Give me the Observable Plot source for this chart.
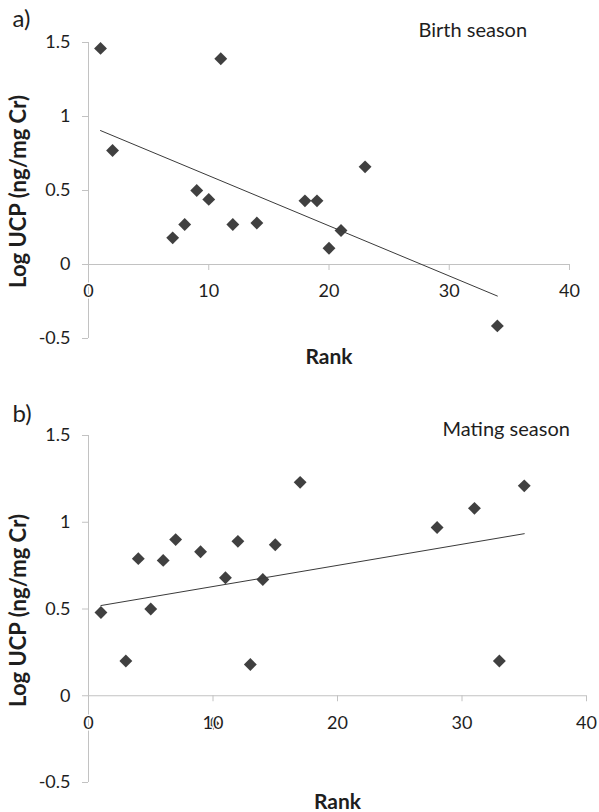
<!DOCTYPE html>
<html>
<head>
<meta charset="utf-8">
<script src="https://cdn.jsdelivr.net/npm/d3@7"></script>
<script src="https://cdn.jsdelivr.net/npm/@observablehq/plot@0.6"></script>
<style>
  html, body { margin: 0; padding: 0; background: #fff; }
  #chart { width: 599px; }
  #chart svg { display: block; }
</style>
</head>
<body>
<div id="chart"></div>
<script>
// ---- Data ----
const rankA = [1, 2, 7, 8, 9, 10, 11, 12, 14, 18, 19, 20, 21, 23, 34];
const ucpA  = [1.46, 0.77, 0.18, 0.27, 0.50, 0.44, 1.39, 0.27, 0.28, 0.43, 0.43, 0.11, 0.23, 0.66, -0.415];
const trendRankA = [1, 34];
const trendUcpA  = [0.905, -0.213];

const rankB = [1, 3, 4, 5, 6, 7, 9, 10, 11, 12, 13, 14, 15, 17, 28, 31, 33, 35];
const ucpB  = [0.48, 0.20, 0.79, 0.50, 0.78, 0.90, 0.83, -0.16, 0.68, 0.89, 0.18, 0.67, 0.87, 1.23, 0.97, 1.08, 0.20, 1.21];
const trendRankB = [1, 35];
const trendUcpB  = [0.52, 0.934];

const xTicks = [0, 10, 20, 30, 40];
const yTicks = [-0.5, 0, 0.5, 1, 1.5];
const yTickLabels = ["-0.5", "0", "0.5", "1", "1.5"];

const panelLetters = ["a)", "b)"];
const seasonLabels = ["Birth season", "Mating season"];
const yTitle = "Log UCP (ng/mg Cr)";
const xTitle = "Rank";

// ---- Styles ----
const AXIS = "#c2c2c2";
const INK = "#1e1e1e";
const MARK = "#404040";
const FONT = "Lato, 'Open Sans', sans-serif";

function panel(o) {
  const pts = o.rank.map((r, i) => ({rank: r, ucp: o.ucp[i]}));
  const trend = o.trendX.map((r, i) => ({rank: r, ucp: o.trendY[i]}));
  return Plot.plot({
    width: 599,
    height: o.height,
    marginLeft: 88,
    marginRight: o.marginRight,
    marginTop: o.marginTop,
    marginBottom: o.marginBottom,
    x: {domain: [0, 40], axis: null},
    y: {domain: [-0.5, 1.5], axis: null},
    style: {fontFamily: FONT, background: "#fff", color: INK, overflow: "visible"},
    marks: [
      // vertical axis line and ticks
      Plot.ruleX([0], {y1: -0.5, y2: 1.5, stroke: AXIS, strokeWidth: 1}),
      Plot.ruleY(yTicks, {y: d => d, x1: 0, x2: 0, insetLeft: -6, stroke: AXIS, strokeWidth: 1}),
      // horizontal axis line at y = 0 and ticks
      Plot.ruleY([0], {x1: 0, x2: 40, stroke: AXIS, strokeWidth: 1}),
      Plot.ruleX(xTicks, {x: d => d, y1: 0, y2: 0, insetBottom: -6, stroke: AXIS, strokeWidth: 1}),
      // data
      Plot.dot(pts, {x: "rank", y: "ucp", symbol: "diamond2", r: 5.8, fill: MARK, stroke: "none"}),
      Plot.line(trend, {x: "rank", y: "ucp", stroke: "#3a3a3a", strokeWidth: 1}),
      // tick labels
      Plot.text(yTicks, {x: 0, y: d => d, text: (d, i) => yTickLabels[i], dx: -18, textAnchor: "end", lineAnchor: "middle", fontSize: 18, fill: INK}),
      Plot.text(xTicks, {x: d => d, y: 0, dy: 27, text: d => String(d), textAnchor: "middle", lineAnchor: "middle", fontSize: 18, fill: INK,
        stroke: "white", strokeWidth: 3, paintOrder: "stroke"}),
      // panel letter and season label
      Plot.text([o.letter], {text: d => d, frameAnchor: "top-left", dx: o.letterDx, dy: o.letterDy, textAnchor: "start", lineAnchor: "middle", fontSize: 24, fill: INK}),
      Plot.text([o.season], {text: d => d, frameAnchor: "top-left", dx: o.seasonDx, dy: o.seasonDy, textAnchor: "start", lineAnchor: "middle", fontSize: 20, fill: INK}),
      // axis titles
      Plot.text([yTitle], {text: d => d, frameAnchor: "left", dx: -70, dy: o.yTitleDy, rotate: -90, textAnchor: "middle", lineAnchor: "middle", fontWeight: "bold", fontSize: 22, fill: INK}),
      Plot.text([xTitle], {text: d => d, frameAnchor: "bottom", dy: o.xTitleDy, textAnchor: "middle", lineAnchor: "middle", fontWeight: "bold", fontSize: 21, fill: INK})
    ]
  });
}

const chart = document.getElementById("chart");
chart.append(panel({
  rank: rankA, ucp: ucpA, trendX: trendRankA, trendY: trendUcpA,
  height: 390, marginTop: 42, marginBottom: 52, marginRight: 30,
  letter: panelLetters[0], season: seasonLabels[0],
  letterDx: -76, letterDy: -23, seasonDx: 330, seasonDy: -12,
  yTitleDy: 1, xTitleDy: 19
}));
chart.append(panel({
  rank: rankB, ucp: ucpB, trendX: trendRankB, trendY: trendUcpB,
  height: 422, marginTop: 45, marginBottom: 30, marginRight: 13,
  letter: panelLetters[1], season: seasonLabels[1],
  letterDx: -76, letterDy: -21, seasonDx: 354, seasonDy: -6,
  yTitleDy: 1.5, xTitleDy: 20
}));
</script>
</body>
</html>
